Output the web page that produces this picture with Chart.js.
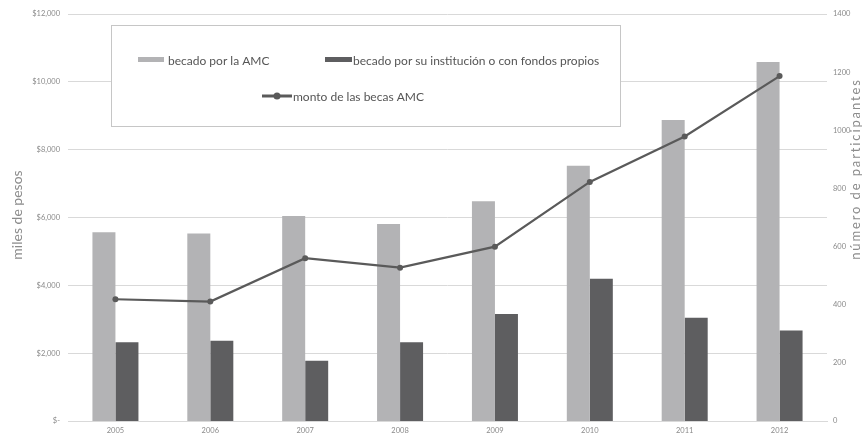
<!DOCTYPE html>
<html>
<head>
<meta charset="utf-8">
<script src="https://cdn.jsdelivr.net/npm/chart.js@4"></script>
<style>
  html, body { margin: 0; padding: 0; background: #ffffff; }
  #wrap { position: relative; width: 868px; height: 434px; }
</style>
</head>
<body>
<div id="wrap"><canvas id="c" width="868" height="434"></canvas></div>
<script>
// ---- data ----
const years = ['2005', '2006', '2007', '2008', '2009', '2010', '2011', '2012'];
const becadoAMC = [649, 645, 705, 678, 756, 878, 1035, 1235];          // número de participantes
const becadoInstitucion = [271, 276, 207, 271, 368, 489, 355, 311];    // número de participantes
const montoBecasAMC = [3590, 3520, 4800, 4520, 5140, 7050, 8390, 10170]; // miles de pesos

const leftTicksMax = 12000;
const leftStep = 2000;
const rightTicksMax = 1400;
const rightStep = 200;

const seriesLabels = [
  'becado por la AMC',
  'becado por su institución o con fondos propios',
  'monto de las becas AMC'
];
const leftTitle = 'miles de pesos';
const rightTitle = 'número de participantes';

// ---- styles ----
const LIGHT = '#b3b3b5';
const DARK = '#5e5e60';
const LINE = '#5a5a5a';
const TICK = '#8a8a8a';
const GRID = '#d9d9d9';
const FONT = 'Lato, "Open Sans", sans-serif';

const titlesPlugin = {
  id: 'axisTitles',
  afterDraw(chart) {
    const ctx = chart.ctx;
    ctx.save();
    ctx.fillStyle = '#8c8c8c';
    ctx.font = '14px ' + FONT;
    ctx.textAlign = 'center';
    ctx.textBaseline = 'middle';
    // left title
    ctx.save();
    ctx.translate(17, 215);
    ctx.rotate(-Math.PI / 2);
    ctx.fillText(leftTitle, 0, 0);
    ctx.restore();
    // right title (spaced)
    ctx.save();
    ctx.translate(856, 170);
    ctx.rotate(-Math.PI / 2);
    ctx.font = '13px ' + FONT;
    const w = ctx.measureText(rightTitle).width;
    const target = 180;
    const n = rightTitle.length - 1;
    const sp = Math.max(0, (target - w) / n);
    ctx.letterSpacing = sp.toFixed(2) + 'px';
    ctx.fillText(rightTitle, sp / 2, 0);
    ctx.restore();
    ctx.restore();
  }
};

const legendPlugin = {
  id: 'boxLegend',
  afterDatasetsDraw(chart) {
    const ctx = chart.ctx;
    const ds = chart.data.datasets;
    ctx.save();
    // box
    ctx.fillStyle = '#ffffff';
    ctx.fillRect(111.5, 25.5, 509, 101);
    ctx.strokeStyle = '#c6c6c6';
    ctx.lineWidth = 1;
    ctx.strokeRect(111.5, 25.5, 509, 101);

    ctx.font = '12px ' + FONT;
    ctx.textBaseline = 'middle';
    ctx.textAlign = 'left';

    // item 1
    ctx.fillStyle = ds[0].backgroundColor;
    ctx.fillRect(138, 57, 26, 5);
    ctx.fillStyle = '#555555';
    ctx.fillText(ds[0].label, 168, 61);

    // item 2
    ctx.fillStyle = ds[1].backgroundColor;
    ctx.fillRect(325, 57, 27, 5);
    ctx.fillStyle = '#555555';
    ctx.fillText(ds[1].label, 353, 61);

    // item 3
    ctx.strokeStyle = ds[2].borderColor;
    ctx.lineWidth = 3;
    ctx.beginPath();
    ctx.moveTo(262, 96);
    ctx.lineTo(292, 96);
    ctx.stroke();
    ctx.fillStyle = ds[2].pointBackgroundColor;
    ctx.beginPath();
    ctx.arc(277, 96, 3.5, 0, Math.PI * 2);
    ctx.fill();
    ctx.fillStyle = '#555555';
    ctx.fillText(ds[2].label, 293, 97);
    ctx.restore();
  }
};

new Chart(document.getElementById('c'), {
  type: 'bar',
  data: {
    labels: years,
    datasets: [
      {
        type: 'bar',
        label: seriesLabels[0],
        data: becadoAMC,
        backgroundColor: LIGHT,
        yAxisID: 'y1',
        order: 1,
        categoryPercentage: 0.485,
        barPercentage: 1.0
      },
      {
        type: 'bar',
        label: seriesLabels[1],
        data: becadoInstitucion,
        backgroundColor: DARK,
        yAxisID: 'y1',
        order: 1,
        categoryPercentage: 0.485,
        barPercentage: 1.0
      },
      {
        type: 'line',
        label: seriesLabels[2],
        data: montoBecasAMC,
        borderColor: LINE,
        backgroundColor: LINE,
        pointBackgroundColor: LINE,
        pointBorderColor: LINE,
        borderWidth: 2.2,
        pointRadius: 3,
        pointBorderWidth: 0,
        tension: 0,
        yAxisID: 'y',
        order: 0
      }
    ]
  },
  options: {
    responsive: false,
    animation: false,
    devicePixelRatio: 1,
    layout: { padding: { top: 14, left: 0, right: 0, bottom: 0 } },
    plugins: {
      legend: { display: false },
      tooltip: { enabled: false },
      title: { display: false }
    },
    scales: {
      x: {
        grid: { display: false, drawTicks: false },
        border: { display: true, color: GRID, width: 1 },
        ticks: { color: TICK, font: { size: 7.5, family: FONT }, padding: 5, maxRotation: 0 },
        afterFit(s) { s.height = 13; }
      },
      y: {
        position: 'left',
        min: 0,
        max: leftTicksMax,
        grid: { color: GRID, lineWidth: 1, drawTicks: false },
        border: { display: false },
        ticks: {
          stepSize: leftStep,
          color: TICK,
          font: { size: 7.5, family: FONT },
          padding: 8,
          callback: v => v === 0 ? '$-' : '$' + v.toLocaleString('en-US')
        },
        afterFit(s) { s.width = 68; }
      },
      y1: {
        position: 'right',
        min: 0,
        max: rightTicksMax,
        grid: { display: false, drawTicks: false },
        border: { display: false },
        ticks: {
          stepSize: rightStep,
          color: TICK,
          font: { size: 7.5, family: FONT },
          padding: 6,
          callback: v => String(v)
        },
        afterFit(s) { s.width = 41; }
      }
    }
  },
  plugins: [legendPlugin, titlesPlugin]
});
</script>
</body>
</html>
